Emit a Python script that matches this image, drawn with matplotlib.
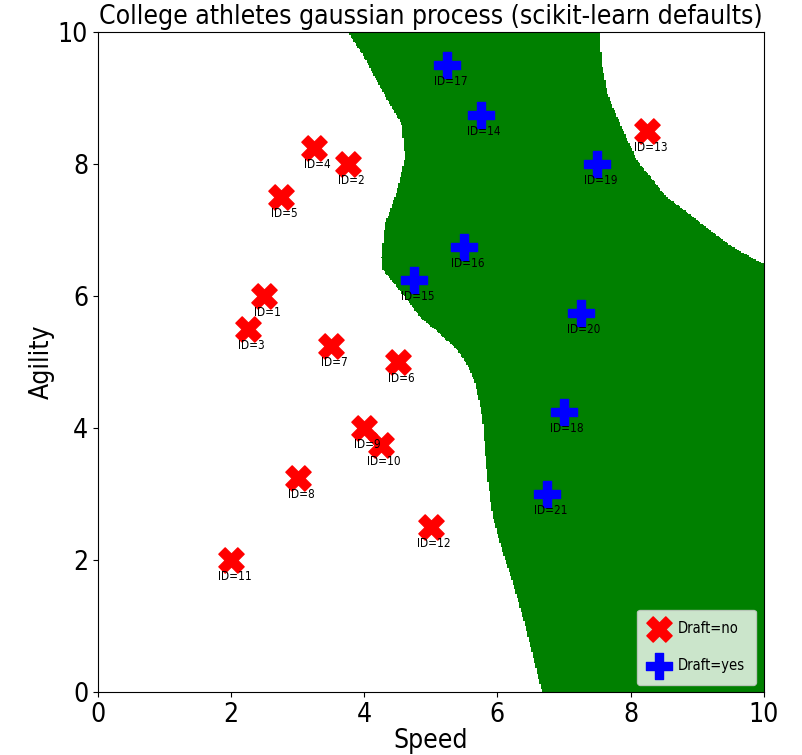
import numpy as np
import matplotlib
matplotlib.use("Agg")
import matplotlib.pyplot as plt
from matplotlib.colors import ListedColormap

##############################
# college athletes data
ids = list(range(1, 22))
speed = [2.50, 3.75, 2.25, 3.25, 2.75, 4.50, 3.50, 3.00, 4.00, 4.25, 2.00,
         5.00, 8.25, 5.75, 4.75, 5.50, 5.25, 7.00, 7.50, 7.25, 6.75]
agility = [6.00, 8.00, 5.50, 8.25, 7.50, 5.00, 5.25, 3.25, 4.00, 3.75, 2.00,
           2.50, 8.50, 8.75, 6.25, 6.75, 9.50, 4.25, 8.00, 5.75, 3.00]
draft = ["no"] * 13 + ["yes"] * 8

# decision region edges (agility -> speed)
left_agility = [0.00, 0.64, 1.14, 1.65, 2.15, 2.65, 3.17, 3.67, 4.17, 4.68,
                4.92, 5.18, 5.44, 5.68, 5.94, 6.20, 6.39, 6.58, 7.08, 7.58,
                8.09, 8.59, 9.35, 9.60, 10.0]
left_speed = [6.67, 6.51, 6.38, 6.23, 6.07, 5.93, 5.86, 5.81, 5.77, 5.66,
              5.56, 5.39, 5.11, 4.83, 4.64, 4.43, 4.28, 4.26, 4.31, 4.49,
              4.61, 4.56, 4.13, 4.00, 3.75]
right_agility = [6.48, 6.74, 7.00, 7.50, 8.05, 8.55, 9.05, 9.53, 10.0]
right_speed = [10.0, 9.53, 9.19, 8.54, 8.10, 7.87, 7.66, 7.57, 7.54]
##############################

plt.rcParams["font.family"] = ["DejaVu Sans"]
plt.rcParams["font.stretch"] = "condensed"

fig = plt.figure(figsize=(8.03, 7.55), dpi=100)
ax = fig.add_axes([0.122, 0.0834, 0.829, 0.8742])

g = np.linspace(0, 10, 501)
gx, gy = np.meshgrid(g, g)
lo = np.interp(gy, left_agility, left_speed)
hi = np.interp(gy, right_agility, right_speed)
region = ((gx >= lo) & (gx <= hi)).astype(float)
ax.imshow(region, origin="lower", extent=[0, 10, 0, 10], aspect="auto",
          cmap=ListedColormap(["white", "green"]), interpolation="nearest", zorder=0)

speed = np.array(speed)
agility = np.array(agility)
draft = np.array(draft)
no = draft == "no"
ax.scatter(speed[no], agility[no], marker="X", s=330, c="red", label="Draft=no", zorder=2)
ax.scatter(speed[~no], agility[~no], marker="P", s=330, c="blue", label="Draft=yes", zorder=2)
for i, x, y in zip(ids, speed, agility):
    ax.text(x + 0.05, y - 0.25, "ID=%d" % i, ha="center", va="center", fontsize=8.5, zorder=3)

ax.set_xlim(0, 10)
ax.set_ylim(0, 10)
ax.set_xlabel("Speed", fontsize=19, labelpad=0)
ax.set_ylabel("Agility", fontsize=19, labelpad=2)
ax.set_title("College athletes gaussian process (scikit-learn defaults)", fontsize=19)
ax.tick_params(labelsize=19)
ax.legend(loc="lower right", fontsize=10.5, scatterpoints=1, labelspacing=1.5,
          borderpad=0.8, handlelength=1.5, handletextpad=0.5)

fig.savefig("out.png", dpi=100)
